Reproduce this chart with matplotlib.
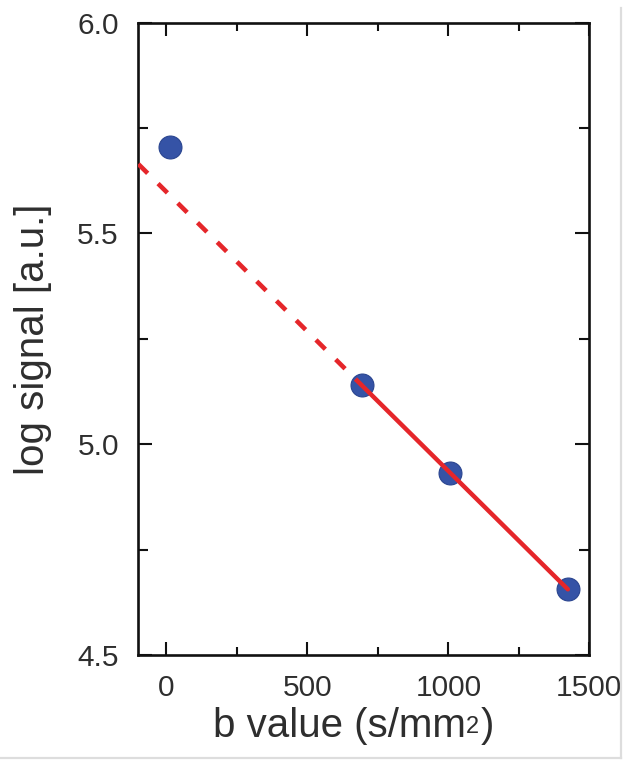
import numpy as np
import matplotlib
matplotlib.use("Agg")
import matplotlib.pyplot as plt
from matplotlib.lines import Line2D
from matplotlib.ticker import MultipleLocator, FixedLocator

plt.rcParams['font.family'] = ['Liberation Sans', 'DejaVu Sans']
plt.rcParams['lines.scale_dashes'] = False

# data
b_values = [12, 693, 1006, 1424]
log_signal = [5.706, 5.140, 4.932, 4.656]
fit_b = [693, 1006, 1424]          # points used for the linear fit (solid segment)
x_ticks = [0, 500, 1000, 1500]
x_ticklabels = ["0", "500", "1000", "1500"]
y_ticks = [4.5, 5.0, 5.5, 6.0]
y_ticklabels = ["4.5", "5.0", "5.5", "6.0"]

W, H, DPI = 632, 770, 100
fig = plt.figure(figsize=(W / DPI, H / DPI), dpi=DPI)
fig.patch.set_facecolor('white')
ax = fig.add_axes([138.3 / W, 1 - 655 / H, (589.3 - 138.3) / W, (655 - 22.7) / H])

xlim = (-100, 1500)
ylim = (4.5, 6.0)

# linear fit over the last three points
fx = np.array(b_values[1:])
fy = np.array(log_signal[1:])
slope, intercept = np.polyfit(fx, fy, 1)

red = '#e5262a'
blue = '#3553a6'

xd = np.array([xlim[0], fit_b[0]])
ax.plot(xd, intercept + slope * xd, color=red, lw=3.3, dashes=(9.5, 10.5),
        solid_capstyle='butt', dash_capstyle='butt', zorder=3)
xs = np.array([fit_b[0], fit_b[-1]])
ax.plot(xs, intercept + slope * xs, color=red, lw=3.2, solid_capstyle='round', zorder=3)

ax.plot(b_values, log_signal, 'o', ms=16.5, color=blue, mec='#2a4590', mew=0.8,
        zorder=2, clip_on=False)

ax.set_xlim(*xlim)
ax.set_ylim(*ylim)
ax.xaxis.set_major_locator(FixedLocator(x_ticks))
ax.set_xticklabels(x_ticklabels)
ax.xaxis.set_minor_locator(MultipleLocator(250))
ax.yaxis.set_major_locator(FixedLocator(y_ticks))
ax.set_yticklabels(y_ticklabels)
ax.yaxis.set_minor_locator(MultipleLocator(0.25))

for s in ax.spines.values():
    s.set_linewidth(1.9)
    s.set_color('#111111')

ax.tick_params(axis='both', which='both', direction='in', top=True, right=True,
               color='#111111', width=1.5, labelsize=21.5, labelcolor='#2e2e2e')
ax.tick_params(axis='x', which='major', length=9.5, pad=14)
ax.tick_params(axis='x', which='minor', length=6)
ax.tick_params(axis='y', which='major', length=10, pad=14)
ax.tick_params(axis='y', which='minor', length=7.5)

ax.set_ylabel("log signal [a.u.]", fontsize=29, color='#2e2e2e', labelpad=18)

# x label with a small raised "2"
fig.canvas.draw()
r = fig.canvas.get_renderer()
base_y = 1 - 737 / H
parts = [("b value (s/mm", 29, 0), ("2", 17, 4), (")", 29, 0)]
texts = []
x = 0
for txt, fs, rise in parts:
    t = fig.text(x, base_y + rise / H, txt, fontsize=fs, ha='left', va='baseline',
                 color='#2e2e2e')
    bb = t.get_window_extent(renderer=r)
    texts.append((t, x * W))
    x += bb.width / W + (1.5 / W if txt == "2" else 0)
total = x * W
start = 353.5 - total / 2
for t, off in texts:
    t.set_x((start + off) / W)

# light grey frame on the right and bottom
fig.add_artist(Line2D([620.7 / W, 620.7 / W], [1 - 8 / H, 1 - 758.3 / H],
                      transform=fig.transFigure, color='#dddddd', lw=1.6))
fig.add_artist(Line2D([0, 620.7 / W], [1 - 758.3 / H, 1 - 758.3 / H],
                      transform=fig.transFigure, color='#dddddd', lw=1.6))

fig.savefig("out.png", dpi=DPI)
